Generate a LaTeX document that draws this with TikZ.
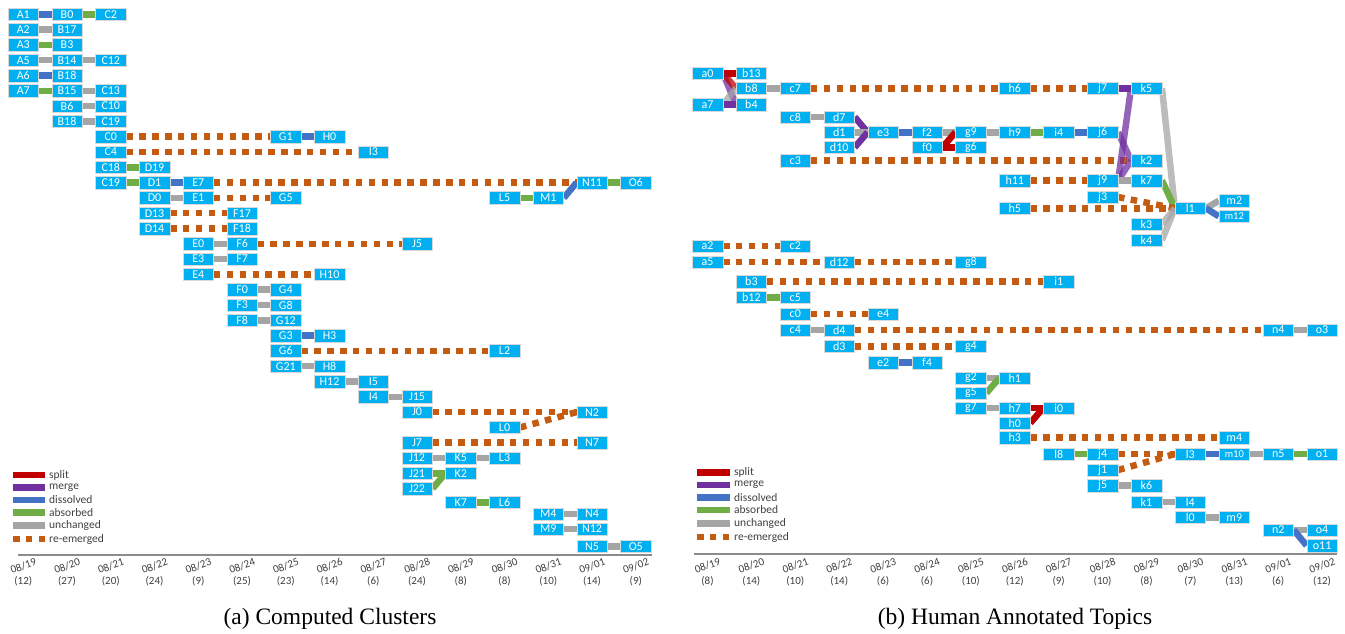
\documentclass[tikz,border=0pt]{standalone}
\usepackage{fontspec}
\setmainfont{Liberation Serif}
\newfontfamily\calfont{Carlito}
\usepackage{xcolor}
\definecolor{topicblue}{HTML}{00B0F0}
\definecolor{splitred}{HTML}{C00000}
\definecolor{mergepurple}{HTML}{7030A0}
\definecolor{dissblue}{HTML}{4472C4}
\definecolor{absgreen}{HTML}{70AD47}
\definecolor{unchgray}{HTML}{A5A5A5}
\definecolor{reemorange}{HTML}{C55A11}
\definecolor{axisgray}{HTML}{8C8C8C}
\definecolor{labelgray}{HTML}{404040}
\pgfdeclarelayer{back}
\pgfsetlayers{back,main}
\tikzset{
	% topic box
	topic/.style={
		fill=topicblue,
		draw=white!70!gray,
		line width=0.5pt,
		minimum width=30.5pt,
		minimum height=12.5pt,
		inner sep=0pt,
		text=white,
		font=\calfont\fontsize{12}{12}\selectfont
	},
	small topic/.style={
		topic,
		font=\calfont\fontsize{10.5}{10.5}\selectfont
	},
	% transitions
	evsplit/.style={line width=6.5pt, splitred},
	evmerge/.style={line width=6.5pt, mergepurple},
	evdissolved/.style={line width=6.5pt, dissblue},
	evabsorbed/.style={line width=6.5pt, absgreen},
	evunchanged/.style={line width=6.5pt, unchgray},
	evreemerged/.style={line width=6.5pt, reemorange, dash pattern=on 6.5pt off 6.4pt},
	faint/.style={opacity=0.75},
	% legend, axis, captions
	legtext/.style={anchor=west, inner sep=0pt, text=labelgray, font=\calfont\fontsize{11.5}{12}\selectfont},
	daylbl/.style={inner sep=0pt, text=labelgray, rotate=20, font=\calfont\fontsize{11}{11}\selectfont},
	cntlbl/.style={inner sep=0pt, text=labelgray, font=\calfont\fontsize{11}{11}\selectfont},
	caption/.style={inner sep=0pt, font=\fontsize{23.5}{28}\selectfont}
}

\begin{document}
\begin{tikzpicture}[x=1pt, y=-1pt]
	\useasboundingbox (0,0) rectangle (1345,633);

	% ===== (a) computed clusters =====
	\begin{scope}[shift={(23.3,14.3)}, x=43.75pt, y=-15.3pt]
		\node[topic] (A1) at (0,0) {A1};
		\node[topic] (B0) at (1,0) {B0};
		\node[topic] (C2) at (2,0) {C2};
		\node[topic] (A2) at (0,1) {A2};
		\node[topic] (B17) at (1,1) {B17};
		\node[topic] (A3) at (0,2) {A3};
		\node[topic] (B3) at (1,2) {B3};
		\node[topic] (A5) at (0,3) {A5};
		\node[topic] (B14) at (1,3) {B14};
		\node[topic] (C12) at (2,3) {C12};
		\node[topic] (A6) at (0,4) {A6};
		\node[topic] (B18) at (1,4) {B18};
		\node[topic] (A7) at (0,5) {A7};
		\node[topic] (B15) at (1,5) {B15};
		\node[topic] (C13) at (2,5) {C13};
		\node[topic] (B6) at (1,6) {B6};
		\node[topic] (C10) at (2,6) {C10};
		\node[topic] (B18b) at (1,7) {B18};
		\node[topic] (C19) at (2,7) {C19};
		\node[topic] (C0) at (2,8) {C0};
		\node[topic] (G1) at (6,8) {G1};
		\node[topic] (H0) at (7,8) {H0};
		\node[topic] (C4) at (2,9) {C4};
		\node[topic] (I3) at (8,9) {I3};
		\node[topic] (C18) at (2,10) {C18};
		\node[topic] (D19) at (3,10) {D19};
		\node[topic] (C19b) at (2,11) {C19};
		\node[topic] (D1) at (3,11) {D1};
		\node[topic] (E7) at (4,11) {E7};
		\node[topic] (N11) at (13,11) {N11};
		\node[topic] (O6) at (14,11) {O6};
		\node[topic] (D0) at (3,12) {D0};
		\node[topic] (E1) at (4,12) {E1};
		\node[topic] (G5) at (6,12) {G5};
		\node[topic] (L5) at (11,12) {L5};
		\node[topic] (M1) at (12,12) {M1};
		\node[topic] (D13) at (3,13) {D13};
		\node[topic] (F17) at (5,13) {F17};
		\node[topic] (D14) at (3,14) {D14};
		\node[topic] (F18) at (5,14) {F18};
		\node[topic] (E0) at (4,15) {E0};
		\node[topic] (F6) at (5,15) {F6};
		\node[topic] (J5) at (9,15) {J5};
		\node[topic] (E3) at (4,16) {E3};
		\node[topic] (F7) at (5,16) {F7};
		\node[topic] (E4) at (4,17) {E4};
		\node[topic] (H10) at (7,17) {H10};
		\node[topic] (F0) at (5,18) {F0};
		\node[topic] (G4) at (6,18) {G4};
		\node[topic] (F3) at (5,19) {F3};
		\node[topic] (G8) at (6,19) {G8};
		\node[topic] (F8) at (5,20) {F8};
		\node[topic] (G12) at (6,20) {G12};
		\node[topic] (G3) at (6,21) {G3};
		\node[topic] (H3) at (7,21) {H3};
		\node[topic] (G6) at (6,22) {G6};
		\node[topic] (L2) at (11,22) {L2};
		\node[topic] (G21) at (6,23) {G21};
		\node[topic] (H8) at (7,23) {H8};
		\node[topic] (H12) at (7,24) {H12};
		\node[topic] (I5) at (8,24) {I5};
		\node[topic] (I4) at (8,25) {I4};
		\node[topic] (J15) at (9,25) {J15};
		\node[topic] (J0) at (9,26) {J0};
		\node[topic] (N2) at (13,26) {N2};
		\node[topic] (L0) at (11,27) {L0};
		\node[topic] (J7) at (9,28) {J7};
		\node[topic] (N7) at (13,28) {N7};
		\node[topic] (J12) at (9,29) {J12};
		\node[topic] (K5) at (10,29) {K5};
		\node[topic] (L3) at (11,29) {L3};
		\node[topic] (J21) at (9,30) {J21};
		\node[topic] (K2) at (10,30) {K2};
		\node[topic] (J22) at (9,31) {J22};
		\node[topic] (K7) at (10,31.9) {K7};
		\node[topic] (L6) at (11,31.9) {L6};
		\node[topic] (M4) at (12,32.66) {M4};
		\node[topic] (N4) at (13,32.66) {N4};
		\node[topic] (M9) at (12,33.64) {M9};
		\node[topic] (N12) at (13,33.64) {N12};
		\node[topic] (N5) at (13,34.78) {N5};
		\node[topic] (O5) at (14,34.78) {O5};
	\end{scope}

	\begin{pgfonlayer}{back}
		\draw[evdissolved] (A1.east) -- (B0.west);
		\draw[evabsorbed] (B0.east) -- (C2.west);
		\draw[evunchanged] (A2.east) -- (B17.west);
		\draw[evabsorbed] (A3.east) -- (B3.west);
		\draw[evunchanged] (A5.east) -- (B14.west);
		\draw[evunchanged] (B14.east) -- (C12.west);
		\draw[evdissolved] (A6.east) -- (B18.west);
		\draw[evabsorbed] (A7.east) -- (B15.west);
		\draw[evunchanged] (B15.east) -- (C13.west);
		\draw[evunchanged] (B6.east) -- (C10.west);
		\draw[evunchanged] (B18b.east) -- (C19.west);
		\draw[evreemerged] (C0.east) -- (G1.west);
		\draw[evdissolved] (G1.east) -- (H0.west);
		\draw[evreemerged] (C4.east) -- (I3.west);
		\draw[evabsorbed] (C18.east) -- (D19.west);
		\draw[evabsorbed] (C19b.east) -- (D1.west);
		\draw[evdissolved] (D1.east) -- (E7.west);
		\draw[evreemerged] (E7.east) -- (N11.west);
		\draw[evabsorbed] (N11.east) -- (O6.west);
		\draw[evunchanged] (D0.east) -- (E1.west);
		\draw[evreemerged] (E1.east) -- (G5.west);
		\draw[evabsorbed] (L5.east) -- (M1.west);
		\draw[evdissolved] (M1.east) -- (N11.west);
		\draw[evreemerged] (D13.east) -- (F17.west);
		\draw[evreemerged] (D14.east) -- (F18.west);
		\draw[evunchanged] (E0.east) -- (F6.west);
		\draw[evreemerged] (F6.east) -- (J5.west);
		\draw[evunchanged] (E3.east) -- (F7.west);
		\draw[evreemerged] (E4.east) -- (H10.west);
		\draw[evunchanged] (F0.east) -- (G4.west);
		\draw[evunchanged] (F3.east) -- (G8.west);
		\draw[evunchanged] (F8.east) -- (G12.west);
		\draw[evdissolved] (G3.east) -- (H3.west);
		\draw[evreemerged] (G6.east) -- (L2.west);
		\draw[evunchanged] (G21.east) -- (H8.west);
		\draw[evunchanged] (H12.east) -- (I5.west);
		\draw[evunchanged] (I4.east) -- (J15.west);
		\draw[evreemerged] (J0.east) -- (N2.west);
		\draw[evreemerged] (L0.east) -- (N2.west);
		\draw[evreemerged] (J7.east) -- (N7.west);
		\draw[evunchanged] (J12.east) -- (K5.west);
		\draw[evunchanged] (K5.east) -- (L3.west);
		\draw[evabsorbed] (J21.east) -- (K2.west);
		\draw[evabsorbed] (J22.east) -- (K2.west);
		\draw[evabsorbed] (K7.east) -- (L6.west);
		\draw[evunchanged] (M4.east) -- (N4.west);
		\draw[evunchanged] (M9.east) -- (N12.west);
		\draw[evunchanged] (N5.east) -- (O5.west);
	\end{pgfonlayer}

	% ===== (b) human annotated topics =====
	\begin{scope}[shift={(707.5,0)}, x=43.9pt]
		\node[topic] (a0) at (0,73.3) {a0};
		\node[topic] (b13) at (1,73.3) {b13};
		\node[topic] (b8) at (1,88.3) {b8};
		\node[topic] (c7) at (2,88.3) {c7};
		\node[topic] (h6) at (7,88.3) {h6};
		\node[topic] (j7) at (9,88.3) {j7};
		\node[topic] (k5) at (10,88.3) {k5};
		\node[topic] (a7) at (0,104.5) {a7};
		\node[topic] (b4) at (1,104.5) {b4};
		\node[topic] (c8) at (2,117) {c8};
		\node[topic] (d7) at (3,117) {d7};
		\node[topic] (d1) at (3,132.3) {d1};
		\node[topic] (e3) at (4,132.3) {e3};
		\node[topic] (f2) at (5,132.3) {f2};
		\node[topic] (g9) at (6,132.3) {g9};
		\node[topic] (h9) at (7,132.3) {h9};
		\node[topic] (i4) at (8,132.3) {i4};
		\node[topic] (j6) at (9,132.3) {j6};
		\node[topic] (d10) at (3,147.3) {d10};
		\node[topic] (f0) at (5,147.3) {f0};
		\node[topic] (g6) at (6,147.3) {g6};
		\node[topic] (c3) at (2,160.5) {c3};
		\node[topic] (k2) at (10,160.5) {k2};
		\node[topic] (h11) at (7,180.5) {h11};
		\node[topic] (j9) at (9,180.5) {j9};
		\node[topic] (k7) at (10,180.5) {k7};
		\node[topic] (j3) at (9,197) {j3};
		\node[topic] (h5) at (7,208.3) {h5};
		\node[topic] (l1) at (11,208.3) {l1};
		\node[topic] (m2) at (12,200.7) {m2};
		\node[small topic] (m12) at (12,216.3) {m12};
		\node[topic] (k3) at (10,224) {k3};
		\node[topic] (k4) at (10,240) {k4};
		\node[topic] (a2) at (0,246) {a2};
		\node[topic] (c2) at (2,246) {c2};
		\node[topic] (a5) at (0,262) {a5};
		\node[topic] (d12) at (3,262) {d12};
		\node[topic] (g8) at (6,262) {g8};
		\node[topic] (b3) at (1,281.5) {b3};
		\node[topic] (i1) at (8,281.5) {i1};
		\node[topic] (b12) at (1,297.3) {b12};
		\node[topic] (c5) at (2,297.3) {c5};
		\node[topic] (c0) at (2,314) {c0};
		\node[topic] (e4) at (4,314) {e4};
		\node[topic] (c4) at (2,330) {c4};
		\node[topic] (d4) at (3,330) {d4};
		\node[topic] (n4) at (13,330) {n4};
		\node[topic] (o3) at (14,330) {o3};
		\node[topic] (d3) at (3,346.3) {d3};
		\node[topic] (g4) at (6,346.3) {g4};
		\node[topic] (e2) at (4,362.7) {e2};
		\node[topic] (f4) at (5,362.7) {f4};
		\node[topic] (g2) at (6,378) {g2};
		\node[topic] (h1) at (7,378) {h1};
		\node[topic] (g5) at (6,393) {g5};
		\node[topic] (g7) at (6,408) {g7};
		\node[topic] (h7) at (7,408) {h7};
		\node[topic] (i0) at (8,408) {i0};
		\node[topic] (h0) at (7,423) {h0};
		\node[topic] (h3) at (7,437.7) {h3};
		\node[topic] (m4) at (12,437.7) {m4};
		\node[topic] (l8) at (8,454) {l8};
		\node[topic] (j4) at (9,454) {j4};
		\node[topic] (l3) at (11,454) {l3};
		\node[small topic] (m10) at (12,454) {m10};
		\node[topic] (n5) at (13,454) {n5};
		\node[topic] (o1) at (14,454) {o1};
		\node[topic] (j1) at (9,470) {j1};
		\node[topic] (j5) at (9,485.7) {j5};
		\node[topic] (k6) at (10,485.7) {k6};
		\node[topic] (k1) at (10,502) {k1};
		\node[topic] (l4) at (11,502) {l4};
		\node[topic] (l0) at (11,517.3) {l0};
		\node[topic] (m9) at (12,517.3) {m9};
		\node[topic] (n2) at (13,530) {n2};
		\node[topic] (o4) at (14,530) {o4};
		\node[topic] (o11) at (14,545.5) {o11};
	\end{scope}

	\begin{pgfonlayer}{back}
		\draw[evsplit] (a0.east) -- (b13.west);
		\draw[evmerge, faint] (a0.east) -- (b4.west);
		\draw[evsplit, faint] (a0.east) -- (b8.west);
		\draw[evunchanged, faint] (a7.east) -- (b8.west);
		\draw[evmerge] (a7.east) -- (b4.west);
		\draw[evunchanged] (b8.east) -- (c7.west);
		\draw[evreemerged] (c7.east) -- (h6.west);
		\draw[evreemerged] (h6.east) -- (j7.west);
		\draw[evmerge] (j7.east) -- (k5.west);
		\draw[evunchanged] (c8.east) -- (d7.west);
		\draw[evmerge] (d7.east) -- (e3.west);
		\draw[evunchanged] (d1.east) -- (e3.west);
		\draw[evmerge] (d10.east) -- (e3.west);
		\draw[evdissolved] (e3.east) -- (f2.west);
		\draw[evunchanged] (f2.east) -- (g9.west);
		\draw[evsplit] (f0.east) -- (g9.west);
		\draw[evsplit] (f0.east) -- (g6.west);
		\draw[evunchanged] (g9.east) -- (h9.west);
		\draw[evabsorbed] (h9.east) -- (i4.west);
		\draw[evdissolved] (i4.east) -- (j6.west);
		\draw[evreemerged] (c3.east) -- (k2.west);
		\draw[evreemerged] (h11.east) -- (j9.west);
		\draw[evmerge, faint] (j6.east) -- (k2.west);
		\draw[evmerge, faint] (j9.east) -- (k5.west);
		\draw[evmerge, faint] (j9.east) -- (k2.west);
		\draw[evunchanged] (j9.east) -- (k7.west);
		\draw[evunchanged, faint] (k5.east) -- (l1.west);
		\draw[evabsorbed] (k7.east) -- (l1.west);
		\draw[evreemerged] (j3.east) -- (l1.west);
		\draw[evreemerged] (h5.east) -- (l1.west);
		\draw[evunchanged, faint] (k3.east) -- (l1.west);
		\draw[evunchanged, faint] (k4.east) -- (l1.west);
		\draw[evunchanged] (l1.east) -- (m2.west);
		\draw[evdissolved] (l1.east) -- (m12.west);
		\draw[evreemerged] (a2.east) -- (c2.west);
		\draw[evreemerged] (a5.east) -- (d12.west);
		\draw[evreemerged] (d12.east) -- (g8.west);
		\draw[evreemerged] (b3.east) -- (i1.west);
		\draw[evabsorbed] (b12.east) -- (c5.west);
		\draw[evreemerged] (c0.east) -- (e4.west);
		\draw[evunchanged] (c4.east) -- (d4.west);
		\draw[evreemerged] (d4.east) -- (n4.west);
		\draw[evunchanged] (n4.east) -- (o3.west);
		\draw[evreemerged] (d3.east) -- (g4.west);
		\draw[evdissolved] (e2.east) -- (f4.west);
		\draw[evunchanged] (g2.east) -- (h1.west);
		\draw[evabsorbed] (g5.east) -- (h1.west);
		\draw[evunchanged] (g7.east) -- (h7.west);
		\draw[evsplit] (h7.east) -- (i0.west);
		\draw[evsplit] (h0.east) -- (i0.west);
		\draw[evreemerged] (h3.east) -- (m4.west);
		\draw[evabsorbed] (l8.east) -- (j4.west);
		\draw[evreemerged] (j4.east) -- (l3.west);
		\draw[evreemerged] (j1.east) -- (l3.west);
		\draw[evdissolved] (l3.east) -- (m10.west);
		\draw[evunchanged] (m10.east) -- (n5.west);
		\draw[evabsorbed] (n5.east) -- (o1.west);
		\draw[evunchanged] (j5.east) -- (k6.west);
		\draw[evunchanged] (k1.east) -- (l4.west);
		\draw[evunchanged] (l0.east) -- (m9.west);
		\draw[evunchanged] (n2.east) -- (o4.west);
		\draw[evdissolved] (n2.east) -- (o11.west);
	\end{pgfonlayer}

	% legends
	\draw[evsplit] (13,475) -- (45,475);
	\node[legtext] (lsplit) at (49,475) {split};
	\draw[evmerge] (13,487.5) -- (45,487.5);
	\node[legtext] (lmerge) at (49,487.5) {merge};
	\draw[evdissolved] (13,500) -- (45,500);
	\node[legtext] (ldiss) at (49,500) {dissolved};
	\draw[evabsorbed] (13,512.5) -- (45,512.5);
	\node[legtext] (labs) at (49,512.5) {absorbed};
	\draw[evunchanged] (13,525.5) -- (45,525.5);
	\node[legtext] (lunch) at (49,525.5) {unchanged};
	\draw[evreemerged] (13,539) -- (45,539);
	\node[legtext] (lreem) at (49,539) {re-emerged};

	\draw[evsplit] (697,472.3) -- (730,472.3);
	\node[legtext] (rsplit) at (734,472.3) {split};
	\draw[evmerge] (697,485) -- (730,485);
	\node[legtext] (rmerge) at (734,485) {merge};
	\draw[evdissolved] (697,497.7) -- (730,497.7);
	\node[legtext] (rdiss) at (734,497.7) {dissolved};
	\draw[evabsorbed] (697,510) -- (730,510);
	\node[legtext] (rabs) at (734,510) {absorbed};
	\draw[evunchanged] (697,523.5) -- (730,523.5);
	\node[legtext] (runch) at (734,523.5) {unchanged};
	\draw[evreemerged] (697,537) -- (730,537);
	\node[legtext] (rreem) at (734,537) {re-emerged};

	% time axes
	\draw[axisgray, line width=1.8pt] (18,555) -- (652,555);
	\draw[axisgray, line width=1.8pt] (694,554) -- (1337,554);
	\foreach \mo/\dy/\cnt [count=\k from 0] in {08/19/12, 08/20/27, 08/21/20, 08/22/24, 08/23/9, 08/24/25, 08/25/23, 08/26/14, 08/27/6, 08/28/24, 08/29/8, 08/30/8, 08/31/10, 09/01/14, 09/02/9}
	{
		\node[daylbl] (lday\k) at ({23.3+43.75*\k},566) {\mo/\dy};
		\node[cntlbl] (lcnt\k) at ({23.3+43.75*\k},581.5) {(\cnt)};
	}
	\foreach \mo/\dy/\cnt [count=\k from 0] in {08/19/8, 08/20/14, 08/21/10, 08/22/14, 08/23/6, 08/24/6, 08/25/10, 08/26/12, 08/27/9, 08/28/10, 08/29/8, 08/30/7, 08/31/13, 09/01/6, 09/02/12}
	{
		\node[daylbl] (rday\k) at ({707.5+43.9*\k},565.5) {\mo/\dy};
		\node[cntlbl] (rcnt\k) at ({707.5+43.9*\k},581) {(\cnt)};
	}

	% captions
	\node[caption] (capa) at (330,619) {(a) Computed Clusters};
	\node[caption] (capb) at (1015,619) {(b) Human Annotated Topics};
\end{tikzpicture}
\end{document}
